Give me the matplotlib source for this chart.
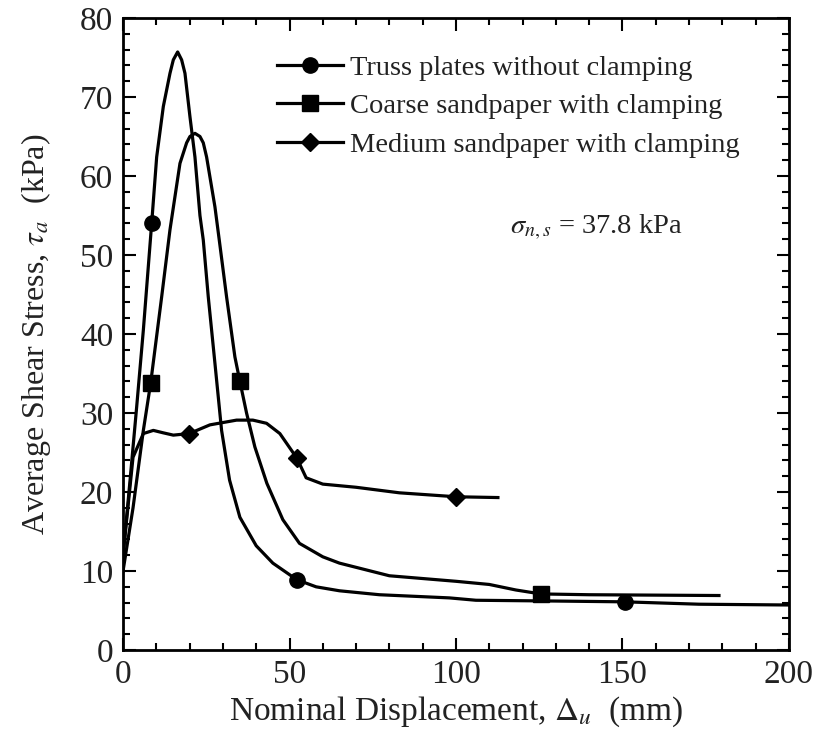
import matplotlib
matplotlib.use("Agg")
import matplotlib.pyplot as plt
from matplotlib.ticker import MultipleLocator

plt.rcParams['font.family'] = ['Liberation Serif', 'DejaVu Serif']
plt.rcParams['mathtext.fontset'] = 'stix'

# Truss plates without clamping (circles)
truss_x = [0, 2, 4.1, 6.1, 8.6, 10.1, 12.1, 14.1, 15.1, 16.4, 17.6, 18.6, 20.1, 21.6, 23.1, 24.1,
           25.6, 27.6, 29.6, 32, 35.1, 40, 45, 52.2, 58, 65, 77, 98, 106, 130, 150.7, 173, 200]
truss_y = [12, 21, 30.8, 40.5, 54, 62.4, 68.8, 73, 74.7, 75.7, 74.7, 73, 67.5, 62.4, 55, 51.9,
           44.7, 36.3, 27.8, 21.5, 16.8, 13.2, 11, 8.9, 8, 7.5, 7.0, 6.6, 6.3, 6.2, 6.1, 5.8, 5.7]
truss_mx = [8.6, 52.2, 150.7]

# Coarse sandpaper with clamping (squares)
coarse_x = [0, 3, 6.1, 8.3, 11.6, 14.1, 17.1, 19.1, 20.1, 21.6, 23.1, 24.1, 25.1, 27.6, 28.9, 31.1,
            33.6, 35.1, 37.1, 39.6, 43.2, 48, 53, 60, 65, 80, 100, 110, 118, 125.5, 140, 179]
coarse_y = [10, 18, 27.8, 33.8, 44.7, 53.2, 61.6, 64.2, 65, 65.4, 65, 64.2, 62.4, 56.1, 51.9, 44.7,
            37.1, 34, 30, 25.7, 21.1, 16.5, 13.5, 11.8, 11, 9.4, 8.7, 8.3, 7.6, 7.1, 7.0, 6.9]
coarse_mx = [8.3, 35.1, 125.5]

# Medium sandpaper with clamping (diamonds)
medium_x = [0, 3, 6.1, 9.1, 12, 15.1, 19.9, 26.1, 34.1, 39, 43.1, 47.1, 52.2, 55,
            60, 70, 83, 100, 112.6]
medium_y = [12, 24.4, 27.4, 27.8, 27.5, 27.2, 27.4, 28.5, 29.1, 29.1, 28.7, 27.4, 24.3, 21.8,
            21, 20.6, 19.9, 19.4, 19.3]
medium_mx = [19.9, 52.2, 100]

labels = ["Truss plates without clamping",
          "Coarse sandpaper with clamping",
          "Medium sandpaper with clamping"]

fig = plt.figure(figsize=(8.17, 7.37), dpi=100)
ax = fig.add_axes([0.1506, 0.118, 0.815, 0.8576])

ax.plot(truss_x, truss_y, color='black', lw=2.3, marker='o', ms=11,
        markevery=[truss_x.index(v) for v in truss_mx], label=labels[0])
ax.plot(coarse_x, coarse_y, color='black', lw=2.3, marker='s', ms=11,
        markevery=[coarse_x.index(v) for v in coarse_mx], label=labels[1])
ax.plot(medium_x, medium_y, color='black', lw=2.3, marker='D', ms=9,
        markevery=[medium_x.index(v) for v in medium_mx], label=labels[2])

ax.set_xlim(0, 200)
ax.set_ylim(0, 80)
ax.xaxis.set_major_locator(MultipleLocator(50))
ax.xaxis.set_minor_locator(MultipleLocator(10))
ax.yaxis.set_major_locator(MultipleLocator(10))
ax.yaxis.set_minor_locator(MultipleLocator(2))
ax.tick_params(which='both', direction='in', top=True, right=True, width=1.5,
               labelsize=24, labelcolor='#222222')
ax.tick_params(which='major', length=9, pad=7)
ax.tick_params(which='minor', length=5)
for s in ax.spines.values():
    s.set_linewidth(2)

ax.set_xlabel(r"Nominal Displacement, $\Delta_u$  (mm)", fontsize=24, color='#222222',
              labelpad=3)
ax.set_ylabel(r"Average Shear Stress, $\tau_a$  (kPa)", fontsize=23, color='#222222')
ax.yaxis.set_label_coords(-0.105, 0.5)

ax.text(116.2, 53.5, r"$\sigma_{n,s}$ = 37.8 kPa", fontsize=20.5, color='#222222', va='center')

ax.legend(loc='upper left', bbox_to_anchor=(0.193, 0.9826), frameon=False, fontsize=20.5,
          handlelength=2.32, handletextpad=0.25, labelspacing=0.45, labelcolor='#222222')

fig.savefig("out.png", dpi=100)
